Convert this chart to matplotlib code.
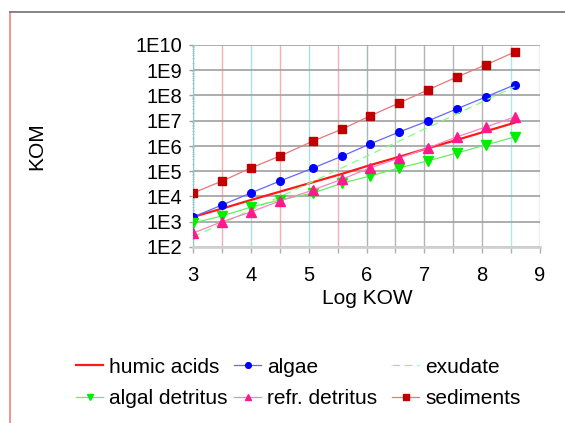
import numpy as np
import matplotlib
matplotlib.use("Agg")
import matplotlib.pyplot as plt
from matplotlib.lines import Line2D
from matplotlib.ticker import FixedLocator, LogLocator, NullFormatter

plt.rcParams['font.family'] = ['Liberation Sans', 'DejaVu Sans']

# ---- data (log10 of KOM) ----
log_kow = [3.0, 3.5, 4.0, 4.5, 5.08, 5.58, 6.06, 6.56, 7.06, 7.56, 8.06, 8.56]
humic_acids = [3.19, 3.52, 3.86, 4.19, 4.57, 4.90, 5.24, 5.57, 5.91, 6.24, 6.58, 6.92]
algae = [3.19, 3.66, 4.14, 4.61, 5.13, 5.60, 6.08, 6.55, 6.99, 7.47, 7.94, 8.42]
exudate = [2.40, 2.93, 3.46, 3.99, 4.60, 5.14, 5.66, 6.19, 6.73, 7.27, 7.81, 8.35]
algal_detritus = [2.95, 3.23, 3.58, 3.86, 4.14, 4.53, 4.81, 5.13, 5.41, 5.72, 6.04, 6.36]
refr_detritus = [2.55, 3.00, 3.39, 3.82, 4.26, 4.69, 5.13, 5.52, 5.92, 6.36, 6.75, 7.15]
sediments = [4.14, 4.61, 5.13, 5.60, 6.20, 6.67, 7.19, 7.70, 8.22, 8.73, 9.21, 9.72]

series_names = ["humic acids", "algae", "exudate", "algal detritus", "refr. detritus", "sediments"]
series_vals = [humic_acids, algae, exudate, algal_detritus, refr_detritus, sediments]

x_ticks = [3, 3.5, 4, 4.5, 5, 5.5, 6, 6.5, 7, 7.5, 8, 8.5, 9]
y_exps = [2, 3, 4, 5, 6, 7, 8, 9, 10]

# ---- styles ----
styles = {
    "humic acids": dict(color="#ff1a1a", lw=1.6, ls="-", marker=None),
    "algae": dict(color="#6666ff", lw=0.9, ls="-", marker="o", mfc="#0000ff", mec="#0000ff", ms=5.5),
    "exudate": dict(color="#80ff80", lw=0.9, ls=(0, (6, 4)), marker=None),
    "algal detritus": dict(color="#66ee66", lw=0.9, ls="-", marker="v", mfc="#00ee00", mec="#00ee00", ms=6.5),
    "refr. detritus": dict(color="#ff80c0", lw=0.9, ls="-", marker="^", mfc="#ff1a8c", mec="#ff1a8c", ms=6.5),
    "sediments": dict(color="#e87878", lw=0.9, ls="-", marker="s", mfc="#c00000", mec="#c00000", ms=5.5),
}

W, H = 565, 423
fig = plt.figure(figsize=(W / 100, H / 100), dpi=100)
ax = fig.add_axes([193 / W, 1 - 247 / H, (540 - 193) / W, (247 - 45) / H])

handles = {}
for name, vals in zip(series_names, series_vals):
    st = styles[name]
    kw = dict(color=st["color"], lw=st["lw"], ls=st["ls"], label=name, zorder=3)
    if st["marker"]:
        kw.update(marker=st["marker"], mfc=st["mfc"], mec=st["mec"], ms=st["ms"])
    (ln,) = ax.plot(log_kow, [10 ** v for v in vals], **kw)
    handles[name] = ln

ax.set_yscale("log")
ax.set_xlim(3, 9)
ax.set_ylim(1e2, 1e10)

ax.xaxis.set_major_locator(FixedLocator(x_ticks))
ax.set_xticklabels([str(int(v)) if float(v).is_integer() else "" for v in x_ticks])
ax.yaxis.set_major_locator(FixedLocator([10.0 ** e for e in y_exps]))
ax.set_yticklabels([f"1E{e}" for e in y_exps])
ax.yaxis.set_minor_locator(LogLocator(base=10, subs=np.arange(2, 10), numticks=50))
ax.yaxis.set_minor_formatter(NullFormatter())

ax.grid(True, which="major", axis="both")
vcolors = ["#a8c8c8", "#f4b0b0", "#a8e4e4", "#f4b0b0", "#a8e4e4", "#f4b0b0",
           "#a8b8b8", "#b4b4b4", "#b4b4b4", "#b4b4b4", "#b4b4b4", "#a8ecec", "#f08080"]
for gl, c in zip(ax.get_xgridlines(), vcolors):
    gl.set_color(c)
    gl.set_linewidth(1.0)
for gl in ax.get_ygridlines():
    gl.set_color("#a0a0a0")
    gl.set_linewidth(1.2)
ax.set_axisbelow(True)

for s in ["top", "right"]:
    ax.spines[s].set_visible(False)
ax.spines["left"].set_color("#90c8c8")
ax.spines["bottom"].set_color("#d0d0d0")
ax.spines["bottom"].set_linewidth(2.0)

ax.tick_params(axis="x", which="major", length=4, width=1, colors="#b0b0b0",
               labelcolor="black", labelsize=14.5, pad=10)
for t, c in zip(ax.xaxis.get_major_ticks(), vcolors):
    t.tick1line.set_color(c)
    t.label1.set_x(t.label1.get_position()[0])
ax.tick_params(axis="y", which="major", length=3, width=1, colors="#a0a0a0",
               labelcolor="black", labelsize=14.5, pad=5)
ax.tick_params(axis="y", which="minor", length=2, width=0.6, colors="#90c8c8", direction="inout")

fig.text(37 / W, 1 - 146 / H, "KOM", rotation=90, ha="center", va="center", fontsize=15)
fig.text(367 / W, 1 - 298 / H, "Log KOW", ha="center", va="center", fontsize=15)

# legend: three columns of two entries
cols = [["humic acids", "algal detritus"], ["algae", "refr. detritus"], ["exudate", "sediments"]]
col_x = [76, 234, 392]
for names, x0 in zip(cols, col_x):
    fig.legend([handles[n] for n in names], names, loc="center left",
               bbox_to_anchor=(x0 / W, 1 - 383 / H), frameon=False,
               fontsize=15, handlelength=1.3, handletextpad=0.3,
               borderpad=0, borderaxespad=0, labelspacing=0.6, markerscale=0.75)

# figure frame lines
fig.add_artist(Line2D([10 / W, 10 / W], [0, 1 - 12 / H], transform=fig.transFigure,
                      color="#f08080", lw=1.2))
fig.add_artist(Line2D([10 / W, 1], [1 - 12 / H, 1 - 12 / H], transform=fig.transFigure,
                      color="#707070", lw=1.2))

fig.savefig("out.png", dpi=100)
